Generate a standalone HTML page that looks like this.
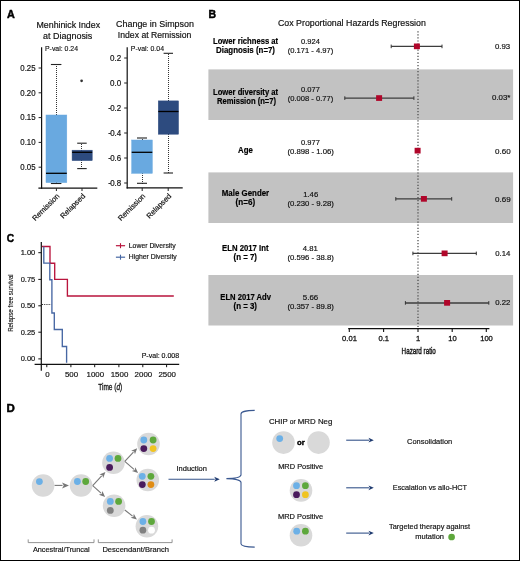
<!DOCTYPE html>
<html><head><meta charset="utf-8"><style>
html,body{margin:0;padding:0;background:#fff;}
svg{display:block;will-change:transform;font-family:"Liberation Sans", sans-serif;}
</style></head><body>
<svg width="520" height="561" viewBox="0 0 520 561">
<rect width="520" height="561" fill="#fff"/>
<text x="7" y="18.2" font-size="10.6" text-anchor="start" font-weight="bold" fill="#000" textLength="7.8" lengthAdjust="spacingAndGlyphs" stroke="#000" stroke-width="0.45" >A</text>
<text x="68.3" y="28.2" font-size="8.8" text-anchor="middle" font-weight="normal" fill="#111" textLength="63.5" lengthAdjust="spacingAndGlyphs" stroke="#111" stroke-width="0.18" >Menhinick Index</text>
<text x="67.7" y="39.1" font-size="8.8" text-anchor="middle" font-weight="normal" fill="#111" textLength="49.3" lengthAdjust="spacingAndGlyphs" stroke="#111" stroke-width="0.18" >at Diagnosis</text>
<text x="155" y="27.0" font-size="8.8" text-anchor="middle" font-weight="normal" fill="#111" textLength="77.8" lengthAdjust="spacingAndGlyphs" stroke="#111" stroke-width="0.18" >Change in Simpson</text>
<text x="154.6" y="38.4" font-size="8.8" text-anchor="middle" font-weight="normal" fill="#111" textLength="73.5" lengthAdjust="spacingAndGlyphs" stroke="#111" stroke-width="0.18" >Index at Remission</text>
<line x1="41.6" y1="47.3" x2="41.6" y2="188.79999999999998" stroke="#111" stroke-width="1.2" />
<line x1="38.4" y1="188.2" x2="97.3" y2="188.2" stroke="#111" stroke-width="1.2" />
<line x1="38.6" y1="167.2" x2="41.6" y2="167.2" stroke="#222" stroke-width="1" />
<text x="35.6" y="170.04999999999998" font-size="8.6" text-anchor="end" font-weight="normal" fill="#111" textLength="15.3" lengthAdjust="spacingAndGlyphs" stroke="#111" stroke-width="0.18" >0.05</text>
<line x1="38.6" y1="142.39999999999998" x2="41.6" y2="142.39999999999998" stroke="#222" stroke-width="1" />
<text x="35.6" y="145.24999999999997" font-size="8.6" text-anchor="end" font-weight="normal" fill="#111" textLength="15.3" lengthAdjust="spacingAndGlyphs" stroke="#111" stroke-width="0.18" >0.10</text>
<line x1="38.6" y1="117.6" x2="41.6" y2="117.6" stroke="#222" stroke-width="1" />
<text x="35.6" y="120.44999999999999" font-size="8.6" text-anchor="end" font-weight="normal" fill="#111" textLength="15.3" lengthAdjust="spacingAndGlyphs" stroke="#111" stroke-width="0.18" >0.15</text>
<line x1="38.6" y1="92.79999999999997" x2="41.6" y2="92.79999999999997" stroke="#222" stroke-width="1" />
<text x="35.6" y="95.64999999999996" font-size="8.6" text-anchor="end" font-weight="normal" fill="#111" textLength="15.3" lengthAdjust="spacingAndGlyphs" stroke="#111" stroke-width="0.18" >0.20</text>
<line x1="38.6" y1="67.99999999999999" x2="41.6" y2="67.99999999999999" stroke="#222" stroke-width="1" />
<text x="35.6" y="70.84999999999998" font-size="8.6" text-anchor="end" font-weight="normal" fill="#111" textLength="15.3" lengthAdjust="spacingAndGlyphs" stroke="#111" stroke-width="0.18" >0.25</text>
<line x1="56.5" y1="115" x2="56.5" y2="64" stroke="#333" stroke-width="1" stroke-dasharray="1,1"/>
<line x1="56.5" y1="182" x2="56.5" y2="184" stroke="#333" stroke-width="1" stroke-dasharray="1,1"/>
<line x1="50.9" y1="64.5" x2="61.4" y2="64.5" stroke="#222" stroke-width="1.1" />
<line x1="50.9" y1="183.5" x2="61.4" y2="183.5" stroke="#222" stroke-width="1.1" />
<rect x="46" y="115" width="20.799999999999997" height="67.6" fill="#69a9e0" stroke="#69a9e0" stroke-width="0.5"/>
<line x1="46" y1="173.3" x2="66.8" y2="173.3" stroke="#000" stroke-width="1.3" />
<line x1="81.5" y1="151" x2="81.5" y2="143" stroke="#333" stroke-width="1" stroke-dasharray="1,1"/>
<line x1="81.5" y1="160" x2="81.5" y2="169" stroke="#333" stroke-width="1" stroke-dasharray="1,1"/>
<line x1="77.2" y1="143.2" x2="86.7" y2="143.2" stroke="#222" stroke-width="1.1" />
<line x1="77.2" y1="168.6" x2="86.7" y2="168.6" stroke="#222" stroke-width="1.1" />
<rect x="72.1" y="150.2" width="20.10000000000001" height="10.400000000000006" fill="#2d4b7f" stroke="#2d4b7f" stroke-width="0.5"/>
<line x1="72.1" y1="152.3" x2="92.2" y2="152.3" stroke="#000" stroke-width="1.3" />
<text x="45" y="51.4" font-size="7.3" text-anchor="start" font-weight="normal" fill="#111" textLength="33" lengthAdjust="spacingAndGlyphs" stroke="#111" stroke-width="0.144" >P-val: 0.24</text>
<circle cx="81.6" cy="80.8" r="1.35" fill="#333" />
<line x1="127.2" y1="47.3" x2="127.2" y2="188.5" stroke="#111" stroke-width="1.2" />
<line x1="126.6" y1="187.9" x2="182.7" y2="187.9" stroke="#111" stroke-width="1.2" />
<line x1="124.2" y1="58.0" x2="127.2" y2="58.0" stroke="#222" stroke-width="1" />
<text x="121.2" y="60.85" font-size="8.6" text-anchor="end" font-weight="normal" fill="#111" textLength="11.2" lengthAdjust="spacingAndGlyphs" stroke="#111" stroke-width="0.18" >0.2</text>
<line x1="124.2" y1="83.0" x2="127.2" y2="83.0" stroke="#222" stroke-width="1" />
<text x="121.2" y="85.85" font-size="8.6" text-anchor="end" font-weight="normal" fill="#111" textLength="11.2" lengthAdjust="spacingAndGlyphs" stroke="#111" stroke-width="0.18" >0.0</text>
<line x1="124.2" y1="108.0" x2="127.2" y2="108.0" stroke="#222" stroke-width="1" />
<text x="121.2" y="110.85" font-size="8.6" text-anchor="end" font-weight="normal" fill="#111" textLength="12.9" lengthAdjust="spacingAndGlyphs" stroke="#111" stroke-width="0.18" >-<tspan dx="-0.9">0.2</tspan></text>
<line x1="124.2" y1="133.0" x2="127.2" y2="133.0" stroke="#222" stroke-width="1" />
<text x="121.2" y="135.85" font-size="8.6" text-anchor="end" font-weight="normal" fill="#111" textLength="12.9" lengthAdjust="spacingAndGlyphs" stroke="#111" stroke-width="0.18" >-<tspan dx="-0.9">0.4</tspan></text>
<line x1="124.2" y1="158.0" x2="127.2" y2="158.0" stroke="#222" stroke-width="1" />
<text x="121.2" y="160.85" font-size="8.6" text-anchor="end" font-weight="normal" fill="#111" textLength="12.9" lengthAdjust="spacingAndGlyphs" stroke="#111" stroke-width="0.18" >-<tspan dx="-0.9">0.6</tspan></text>
<line x1="124.2" y1="183.0" x2="127.2" y2="183.0" stroke="#222" stroke-width="1" />
<text x="121.2" y="185.85" font-size="8.6" text-anchor="end" font-weight="normal" fill="#111" textLength="12.9" lengthAdjust="spacingAndGlyphs" stroke="#111" stroke-width="0.18" >-<tspan dx="-0.9">0.8</tspan></text>
<line x1="142.5" y1="140" x2="142.5" y2="138" stroke="#333" stroke-width="1" stroke-dasharray="1,1"/>
<line x1="142.5" y1="173" x2="142.5" y2="184" stroke="#333" stroke-width="1" stroke-dasharray="1,1"/>
<line x1="137" y1="138" x2="147" y2="138" stroke="#222" stroke-width="1.1" />
<line x1="137" y1="183.3" x2="147" y2="183.3" stroke="#222" stroke-width="1.1" />
<rect x="131.7" y="140" width="20.600000000000023" height="33.30000000000001" fill="#69a9e0" stroke="#69a9e0" stroke-width="0.5"/>
<line x1="131.7" y1="152.3" x2="152.3" y2="152.3" stroke="#000" stroke-width="1.3" />
<line x1="168.5" y1="101" x2="168.5" y2="53" stroke="#333" stroke-width="1" stroke-dasharray="1,1"/>
<line x1="168.5" y1="134" x2="168.5" y2="173" stroke="#333" stroke-width="1" stroke-dasharray="1,1"/>
<line x1="163.6" y1="53.3" x2="173" y2="53.3" stroke="#222" stroke-width="1.1" />
<line x1="163.6" y1="173" x2="173" y2="173" stroke="#222" stroke-width="1.1" />
<rect x="158.3" y="100.9" width="20.19999999999999" height="33.29999999999998" fill="#2d4b7f" stroke="#2d4b7f" stroke-width="0.5"/>
<line x1="158.3" y1="111.5" x2="178.5" y2="111.5" stroke="#000" stroke-width="1.3" />
<text x="130.8" y="51.3" font-size="7.3" text-anchor="start" font-weight="normal" fill="#111" textLength="33.2" lengthAdjust="spacingAndGlyphs" stroke="#111" stroke-width="0.144" >P-val: 0.04</text>
<line x1="56.4" y1="188.2" x2="56.4" y2="191" stroke="#222" stroke-width="1" />
<line x1="82" y1="188.2" x2="82" y2="191" stroke="#222" stroke-width="1" />
<line x1="142.2" y1="187.9" x2="142.2" y2="191" stroke="#222" stroke-width="1" />
<line x1="168.2" y1="187.9" x2="168.2" y2="191" stroke="#222" stroke-width="1" />
<text x="0" y="0" font-size="7.5" text-anchor="end" font-weight="normal" fill="#111" stroke="#111" stroke-width="0.18" transform="translate(60.0,196.6) rotate(-45)">Remission</text>
<text x="0" y="0" font-size="7.5" text-anchor="end" font-weight="normal" fill="#111" stroke="#111" stroke-width="0.18" transform="translate(85.6,196.6) rotate(-45)">Relapsed</text>
<text x="0" y="0" font-size="7.5" text-anchor="end" font-weight="normal" fill="#111" stroke="#111" stroke-width="0.18" transform="translate(145.79999999999998,196.6) rotate(-45)">Remission</text>
<text x="0" y="0" font-size="7.5" text-anchor="end" font-weight="normal" fill="#111" stroke="#111" stroke-width="0.18" transform="translate(171.79999999999998,196.6) rotate(-45)">Relapsed</text>
<text x="208.6" y="18.1" font-size="10.6" text-anchor="start" font-weight="bold" fill="#000" textLength="7.6" lengthAdjust="spacingAndGlyphs" stroke="#000" stroke-width="0.45" >B</text>
<text x="278" y="25.7" font-size="8.6" text-anchor="start" font-weight="normal" fill="#111" textLength="147.8" lengthAdjust="spacingAndGlyphs" stroke="#111" stroke-width="0.18" >Cox Proportional Hazards Regression</text>
<rect x="208.4" y="69.4" width="304.70000000000005" height="50.599999999999994" fill="#c2c2c2" />
<rect x="208.4" y="172.4" width="304.70000000000005" height="50.599999999999994" fill="#c2c2c2" />
<rect x="208.4" y="275" width="304.70000000000005" height="50.5" fill="#c2c2c2" />
<line x1="418" y1="31.2" x2="418" y2="328" stroke="#444" stroke-width="1.2" stroke-dasharray="1.2,1.87"/>
<text x="245.55" y="43.8" font-size="8.4" text-anchor="middle" font-weight="bold" fill="#000" textLength="65.1" lengthAdjust="spacingAndGlyphs" stroke="#000" stroke-width="0.18" >Lower richness at</text>
<text x="245.55" y="53.1" font-size="8.4" text-anchor="middle" font-weight="bold" fill="#000" textLength="58.9" lengthAdjust="spacingAndGlyphs" stroke="#000" stroke-width="0.18" >Diagnosis (n=7)</text>
<text x="245.55" y="95.1" font-size="8.4" text-anchor="middle" font-weight="bold" fill="#000" textLength="65.1" lengthAdjust="spacingAndGlyphs" stroke="#000" stroke-width="0.18" >Lower diversity at</text>
<text x="246.55" y="104.3" font-size="8.4" text-anchor="middle" font-weight="bold" fill="#000" textLength="59.1" lengthAdjust="spacingAndGlyphs" stroke="#000" stroke-width="0.18" >Remission (n=7)</text>
<text x="245.4" y="153" font-size="8.4" text-anchor="middle" font-weight="bold" fill="#000" textLength="14.8" lengthAdjust="spacingAndGlyphs" stroke="#000" stroke-width="0.18" >Age</text>
<text x="245.5" y="196.2" font-size="8.4" text-anchor="middle" font-weight="bold" fill="#000" textLength="47.4" lengthAdjust="spacingAndGlyphs" stroke="#000" stroke-width="0.18" >Male Gender</text>
<text x="245.35" y="205.3" font-size="8.4" text-anchor="middle" font-weight="bold" fill="#000" textLength="19.5" lengthAdjust="spacingAndGlyphs" stroke="#000" stroke-width="0.18" >(n=6)</text>
<text x="245.3" y="250.7" font-size="8.4" text-anchor="middle" font-weight="bold" fill="#000" textLength="46.4" lengthAdjust="spacingAndGlyphs" stroke="#000" stroke-width="0.18" >ELN 2017 Int</text>
<text x="245.25" y="260" font-size="8.4" text-anchor="middle" font-weight="bold" fill="#000" textLength="23.5" lengthAdjust="spacingAndGlyphs" stroke="#000" stroke-width="0.18" >(n = 7)</text>
<text x="245.65" y="299.9" font-size="8.4" text-anchor="middle" font-weight="bold" fill="#000" textLength="50.7" lengthAdjust="spacingAndGlyphs" stroke="#000" stroke-width="0.18" >ELN 2017 Adv</text>
<text x="245.25" y="309.1" font-size="8.4" text-anchor="middle" font-weight="bold" fill="#000" textLength="23.5" lengthAdjust="spacingAndGlyphs" stroke="#000" stroke-width="0.18" >(n = 3)</text>
<text x="310.5" y="44.3" font-size="8" text-anchor="middle" font-weight="normal" fill="#111" textLength="18.8" lengthAdjust="spacingAndGlyphs" stroke="#111" stroke-width="0.18" >0.924</text>
<text x="310.5" y="53.1" font-size="8" text-anchor="middle" font-weight="normal" fill="#111" textLength="45.4" lengthAdjust="spacingAndGlyphs" stroke="#111" stroke-width="0.18" >(0.171 - 4.97)</text>
<text x="310.5" y="91.6" font-size="8" text-anchor="middle" font-weight="normal" fill="#111" textLength="18.8" lengthAdjust="spacingAndGlyphs" stroke="#111" stroke-width="0.18" >0.077</text>
<text x="310.5" y="100.6" font-size="8" text-anchor="middle" font-weight="normal" fill="#111" textLength="45.4" lengthAdjust="spacingAndGlyphs" stroke="#111" stroke-width="0.18" >(0.008 - 0.77)</text>
<text x="310.5" y="145.4" font-size="8" text-anchor="middle" font-weight="normal" fill="#111" textLength="18.8" lengthAdjust="spacingAndGlyphs" stroke="#111" stroke-width="0.18" >0.977</text>
<text x="310.65" y="154.2" font-size="8" text-anchor="middle" font-weight="normal" fill="#111" textLength="46.5" lengthAdjust="spacingAndGlyphs" stroke="#111" stroke-width="0.18" >(0.898 - 1.06)</text>
<text x="310.7" y="196.7" font-size="8" text-anchor="middle" font-weight="normal" fill="#111" textLength="15.0" lengthAdjust="spacingAndGlyphs" stroke="#111" stroke-width="0.18" >1.46</text>
<text x="310.65" y="205.6" font-size="8" text-anchor="middle" font-weight="normal" fill="#111" textLength="46.5" lengthAdjust="spacingAndGlyphs" stroke="#111" stroke-width="0.18" >(0.230 - 9.28)</text>
<text x="310.3" y="251.3" font-size="8" text-anchor="middle" font-weight="normal" fill="#111" textLength="15.0" lengthAdjust="spacingAndGlyphs" stroke="#111" stroke-width="0.18" >4.81</text>
<text x="310.65" y="260.1" font-size="8" text-anchor="middle" font-weight="normal" fill="#111" textLength="46.5" lengthAdjust="spacingAndGlyphs" stroke="#111" stroke-width="0.18" >(0.596 - 38.8)</text>
<text x="310.5" y="300.4" font-size="8" text-anchor="middle" font-weight="normal" fill="#111" textLength="15.4" lengthAdjust="spacingAndGlyphs" stroke="#111" stroke-width="0.18" >5.66</text>
<text x="310.65" y="309.3" font-size="8" text-anchor="middle" font-weight="normal" fill="#111" textLength="46.5" lengthAdjust="spacingAndGlyphs" stroke="#111" stroke-width="0.18" >(0.357 - 89.8)</text>
<text x="510.2" y="49.1" font-size="8" text-anchor="end" font-weight="normal" fill="#111" textLength="15.2" lengthAdjust="spacingAndGlyphs" stroke="#111" stroke-width="0.18" >0.93</text>
<text x="510.4" y="100" font-size="8" text-anchor="end" font-weight="normal" fill="#111" textLength="18.4" lengthAdjust="spacingAndGlyphs" stroke="#111" stroke-width="0.18" >0.03*</text>
<text x="510.6" y="153.5" font-size="8" text-anchor="end" font-weight="normal" fill="#111" textLength="15.6" lengthAdjust="spacingAndGlyphs" stroke="#111" stroke-width="0.18" >0.60</text>
<text x="510.6" y="201.5" font-size="8" text-anchor="end" font-weight="normal" fill="#111" textLength="15.6" lengthAdjust="spacingAndGlyphs" stroke="#111" stroke-width="0.18" >0.69</text>
<text x="510.4" y="256" font-size="8" text-anchor="end" font-weight="normal" fill="#111" textLength="15.1" lengthAdjust="spacingAndGlyphs" stroke="#111" stroke-width="0.18" >0.14</text>
<text x="510.4" y="305.4" font-size="8" text-anchor="end" font-weight="normal" fill="#111" textLength="15.1" lengthAdjust="spacingAndGlyphs" stroke="#111" stroke-width="0.18" >0.22</text>
<line x1="391.2" y1="46.4" x2="442" y2="46.4" stroke="#3d3d3d" stroke-width="1.25" />
<line x1="391.2" y1="44.6" x2="391.2" y2="48.199999999999996" stroke="#333" stroke-width="1" />
<line x1="442" y1="44.6" x2="442" y2="48.199999999999996" stroke="#333" stroke-width="1" />
<rect x="413.9" y="43.5" width="6" height="5.7" fill="#b0062a" />
<line x1="344.8" y1="98.1" x2="413.9" y2="98.1" stroke="#3d3d3d" stroke-width="1.25" />
<line x1="344.8" y1="96.3" x2="344.8" y2="99.89999999999999" stroke="#333" stroke-width="1" />
<line x1="413.9" y1="96.3" x2="413.9" y2="99.89999999999999" stroke="#333" stroke-width="1" />
<rect x="376.1" y="95.19999999999999" width="6" height="5.7" fill="#b0062a" />
<line x1="416.2" y1="150.7" x2="418.7" y2="150.7" stroke="#3d3d3d" stroke-width="1.25" />
<line x1="416.2" y1="148.89999999999998" x2="416.2" y2="152.5" stroke="#333" stroke-width="1" />
<line x1="418.7" y1="148.89999999999998" x2="418.7" y2="152.5" stroke="#333" stroke-width="1" />
<rect x="414.6" y="147.79999999999998" width="6" height="5.7" fill="#b0062a" />
<line x1="395.8" y1="198.9" x2="451.7" y2="198.9" stroke="#3d3d3d" stroke-width="1.25" />
<line x1="395.8" y1="197.1" x2="395.8" y2="200.70000000000002" stroke="#333" stroke-width="1" />
<line x1="451.7" y1="197.1" x2="451.7" y2="200.70000000000002" stroke="#333" stroke-width="1" />
<rect x="420.9" y="196.0" width="6" height="5.7" fill="#b0062a" />
<line x1="412.9" y1="253.4" x2="476.3" y2="253.4" stroke="#3d3d3d" stroke-width="1.25" />
<line x1="412.9" y1="251.6" x2="412.9" y2="255.20000000000002" stroke="#333" stroke-width="1" />
<line x1="476.3" y1="251.6" x2="476.3" y2="255.20000000000002" stroke="#333" stroke-width="1" />
<rect x="441.6" y="250.5" width="6" height="5.7" fill="#b0062a" />
<line x1="405.4" y1="302.9" x2="488.8" y2="302.9" stroke="#3d3d3d" stroke-width="1.5" />
<line x1="405.4" y1="301.09999999999997" x2="405.4" y2="304.7" stroke="#333" stroke-width="1" />
<line x1="488.8" y1="301.09999999999997" x2="488.8" y2="304.7" stroke="#333" stroke-width="1" />
<rect x="444.1" y="300.0" width="6" height="5.7" fill="#b0062a" />
<line x1="348.2" y1="328.6" x2="489.4" y2="328.6" stroke="#111" stroke-width="1.2" />
<line x1="349.3" y1="328.6" x2="349.3" y2="332" stroke="#111" stroke-width="1.1" />
<text x="349.5" y="341" font-size="7.6" text-anchor="middle" font-weight="normal" fill="#111" stroke="#111" stroke-width="0.28" >0.01</text>
<line x1="383.6" y1="328.6" x2="383.6" y2="332" stroke="#111" stroke-width="1.1" />
<text x="383.8" y="341" font-size="7.6" text-anchor="middle" font-weight="normal" fill="#111" stroke="#111" stroke-width="0.28" >0.1</text>
<line x1="418" y1="328.6" x2="418" y2="332" stroke="#111" stroke-width="1.1" />
<text x="418.2" y="341" font-size="7.6" text-anchor="middle" font-weight="normal" fill="#111" stroke="#111" stroke-width="0.28" >1</text>
<line x1="452.2" y1="328.6" x2="452.2" y2="332" stroke="#111" stroke-width="1.1" />
<text x="452.4" y="341" font-size="7.6" text-anchor="middle" font-weight="normal" fill="#111" stroke="#111" stroke-width="0.28" >10</text>
<line x1="486.3" y1="328.6" x2="486.3" y2="332" stroke="#111" stroke-width="1.1" />
<text x="486.5" y="341" font-size="7.6" text-anchor="middle" font-weight="normal" fill="#111" stroke="#111" stroke-width="0.28" >100</text>
<text x="0" y="0" font-size="9" text-anchor="middle" font-weight="normal" fill="#111" textLength="34.2" lengthAdjust="spacingAndGlyphs" stroke="#111" stroke-width="0.4" transform="translate(418.7,354.4) ">Hazard ratio</text>
<text x="6.8" y="241.6" font-size="10.4" text-anchor="start" font-weight="bold" fill="#000" textLength="7.4" lengthAdjust="spacingAndGlyphs" stroke="#000" stroke-width="0.45" >C</text>
<line x1="41.3" y1="242" x2="41.3" y2="370.8" stroke="#111" stroke-width="1.2" />
<line x1="34.6" y1="364.3" x2="179.2" y2="364.3" stroke="#111" stroke-width="1.2" />
<line x1="38.3" y1="252.7" x2="41.3" y2="252.7" stroke="#111" stroke-width="1" />
<text x="35.3" y="255.04999999999998" font-size="7.9" text-anchor="end" font-weight="normal" fill="#111" textLength="14.6" lengthAdjust="spacingAndGlyphs" stroke="#111" stroke-width="0.18" >1.00</text>
<line x1="38.3" y1="279.4" x2="41.3" y2="279.4" stroke="#111" stroke-width="1" />
<text x="35.3" y="281.75" font-size="7.9" text-anchor="end" font-weight="normal" fill="#111" textLength="14.6" lengthAdjust="spacingAndGlyphs" stroke="#111" stroke-width="0.18" >0.75</text>
<line x1="38.3" y1="305.8" x2="41.3" y2="305.8" stroke="#111" stroke-width="1" />
<text x="35.3" y="308.15000000000003" font-size="7.9" text-anchor="end" font-weight="normal" fill="#111" textLength="14.6" lengthAdjust="spacingAndGlyphs" stroke="#111" stroke-width="0.18" >0.50</text>
<line x1="38.3" y1="332.2" x2="41.3" y2="332.2" stroke="#111" stroke-width="1" />
<text x="35.3" y="334.55" font-size="7.9" text-anchor="end" font-weight="normal" fill="#111" textLength="14.6" lengthAdjust="spacingAndGlyphs" stroke="#111" stroke-width="0.18" >0.25</text>
<line x1="38.3" y1="358.9" x2="41.3" y2="358.9" stroke="#111" stroke-width="1" />
<text x="35.3" y="361.25" font-size="7.9" text-anchor="end" font-weight="normal" fill="#111" textLength="14.6" lengthAdjust="spacingAndGlyphs" stroke="#111" stroke-width="0.18" >0.00</text>
<line x1="46.8" y1="364.3" x2="46.8" y2="367.2" stroke="#111" stroke-width="1" />
<text x="47.4" y="377.3" font-size="7.9" text-anchor="middle" font-weight="normal" fill="#111" stroke="#111" stroke-width="0.18" >0</text>
<line x1="70.9" y1="364.3" x2="70.9" y2="367.2" stroke="#111" stroke-width="1" />
<text x="71.5" y="377.3" font-size="7.9" text-anchor="middle" font-weight="normal" fill="#111" stroke="#111" stroke-width="0.18" >500</text>
<line x1="94.7" y1="364.3" x2="94.7" y2="367.2" stroke="#111" stroke-width="1" />
<text x="95.3" y="377.3" font-size="7.9" text-anchor="middle" font-weight="normal" fill="#111" stroke="#111" stroke-width="0.18" >1000</text>
<line x1="118.9" y1="364.3" x2="118.9" y2="367.2" stroke="#111" stroke-width="1" />
<text x="119.5" y="377.3" font-size="7.9" text-anchor="middle" font-weight="normal" fill="#111" stroke="#111" stroke-width="0.18" >1500</text>
<line x1="142.8" y1="364.3" x2="142.8" y2="367.2" stroke="#111" stroke-width="1" />
<text x="143.4" y="377.3" font-size="7.9" text-anchor="middle" font-weight="normal" fill="#111" stroke="#111" stroke-width="0.18" >2000</text>
<line x1="166.6" y1="364.3" x2="166.6" y2="367.2" stroke="#111" stroke-width="1" />
<text x="167.2" y="377.3" font-size="7.9" text-anchor="middle" font-weight="normal" fill="#111" stroke="#111" stroke-width="0.18" >2500</text>
<polyline points="42,246.5 50,246.5 50,263.2 54.7,263.2 54.7,279.4 67.4,279.4 67.4,296 173.8,296" fill="none" stroke="#b9153d" stroke-width="1.35"/>
<polyline points="43.8,246.5 43.8,263.1 49.8,263.1 49.8,279.7 51.9,279.7 51.9,313 54.3,313 54.3,329.5 62.3,329.5 62.3,346.5 66.6,346.5 66.6,362.7" fill="none" stroke="#4767a3" stroke-width="1.35"/>
<line x1="42" y1="304.5" x2="51.1" y2="304.5" stroke="#333" stroke-width="1.1" stroke-dasharray="1.1,1.1"/>
<line x1="115.9" y1="245.7" x2="125.1" y2="245.7" stroke="#b9153d" stroke-width="1.2" />
<line x1="120.5" y1="243.2" x2="120.5" y2="248.2" stroke="#b9153d" stroke-width="1.1" />
<line x1="115.9" y1="257.2" x2="125.1" y2="257.2" stroke="#4767a3" stroke-width="1.2" />
<line x1="120.5" y1="254.7" x2="120.5" y2="259.7" stroke="#4767a3" stroke-width="1.1" />
<text x="128.8" y="248.2" font-size="7.9" text-anchor="start" font-weight="normal" fill="#111" textLength="46.9" lengthAdjust="spacingAndGlyphs" stroke="#111" stroke-width="0.18" >Lower Diversity</text>
<text x="128.8" y="259.3" font-size="7.9" text-anchor="start" font-weight="normal" fill="#111" textLength="47.9" lengthAdjust="spacingAndGlyphs" stroke="#111" stroke-width="0.18" >Higher Diversity</text>
<text x="179.2" y="358" font-size="7.5" text-anchor="end" font-weight="normal" fill="#111" textLength="37.5" lengthAdjust="spacingAndGlyphs" stroke="#111" stroke-width="0.18" >P-val: 0.008</text>
<text x="0" y="0" font-size="9" text-anchor="middle" font-weight="normal" fill="#111" textLength="24" lengthAdjust="spacingAndGlyphs" stroke="#111" stroke-width="0.3" transform="translate(110.2,390.1) ">Time (<tspan font-style="italic">d</tspan>)</text>
<text x="0" y="0" font-size="7.9" text-anchor="middle" font-weight="normal" fill="#111" textLength="57.6" lengthAdjust="spacingAndGlyphs" stroke="#111" stroke-width="0.12" transform="translate(13.1,303.05) rotate(-90)">Relapse free survival</text>
<text x="6.4" y="411.5" font-size="10.6" text-anchor="start" font-weight="bold" fill="#000" textLength="8.3" lengthAdjust="spacingAndGlyphs" stroke="#000" stroke-width="0.45" >D</text>
<circle cx="43.1" cy="485.5" r="11.3" fill="#d9d9d9" />
<circle cx="39.4" cy="481.6" r="3.4" fill="#6cb0e6" />
<circle cx="81.1" cy="485.5" r="11.3" fill="#d9d9d9" />
<circle cx="77.4" cy="481.5" r="3.4" fill="#6cb0e6" />
<circle cx="85.7" cy="481.5" r="3.4" fill="#5ea83c" />
<circle cx="113.45" cy="462.8" r="11.3" fill="#d9d9d9" />
<circle cx="109.6" cy="458.4" r="3.4" fill="#6cb0e6" />
<circle cx="118" cy="458.4" r="3.4" fill="#5ea83c" />
<circle cx="109.6" cy="467.4" r="3.4" fill="#4a1b5c" />
<circle cx="114.1" cy="505.7" r="11.3" fill="#d9d9d9" />
<circle cx="110.3" cy="501.4" r="3.4" fill="#6cb0e6" />
<circle cx="118.6" cy="501.4" r="3.4" fill="#5ea83c" />
<circle cx="110.3" cy="510.4" r="3.4" fill="#808080" />
<circle cx="148.5" cy="444" r="11.3" fill="#d9d9d9" />
<circle cx="143.8" cy="440" r="3.4" fill="#6cb0e6" />
<circle cx="153.1" cy="440" r="3.4" fill="#5ea83c" />
<circle cx="143.8" cy="448.6" r="3.4" fill="#4a1b5c" />
<circle cx="153.1" cy="448.6" r="3.4" fill="#f0c422" />
<circle cx="147.8" cy="480" r="11.3" fill="#d9d9d9" />
<circle cx="142.3" cy="476.3" r="3.4" fill="#6cb0e6" />
<circle cx="150.9" cy="476.3" r="3.4" fill="#5ea83c" />
<circle cx="142.3" cy="484.6" r="3.4" fill="#4a1b5c" />
<circle cx="150.9" cy="484.6" r="3.4" fill="#e08c14" />
<circle cx="146.9" cy="526.2" r="11.3" fill="#d9d9d9" />
<circle cx="142.9" cy="521.5" r="3.4" fill="#6cb0e6" />
<circle cx="151.5" cy="521.5" r="3.4" fill="#5ea83c" />
<circle cx="142.9" cy="530.2" r="3.4" fill="#808080" />
<circle cx="151.5" cy="530.2" r="3.4" fill="#ffffff" />
<line x1="54.6" y1="485.4" x2="62.5" y2="485.4" stroke="#777" stroke-width="1.1" />
<polygon points="69.00,485.40 62.00,488.40 63.75,485.40 62.00,482.40" fill="#777"/>
<line x1="92.7" y1="485.6" x2="101.66090808406912" y2="475.93350860222466" stroke="#777" stroke-width="1.1" />
<polygon points="105.40,471.90 103.23,478.07 102.34,475.20 99.41,474.53" fill="#777"/>
<line x1="92.7" y1="485.6" x2="101.03478285858898" y2="493.1954069598432" stroke="#777" stroke-width="1.1" />
<polygon points="105.10,496.90 98.91,494.78 101.77,493.87 102.42,490.94" fill="#777"/>
<line x1="124.8" y1="461.3" x2="133.41909625628762" y2="452.19434185827674" stroke="#777" stroke-width="1.1" />
<polygon points="137.20,448.20 134.96,454.34 134.11,451.47 131.19,450.77" fill="#777"/>
<line x1="124.8" y1="461.3" x2="133.985837183012" y2="469.4498405082362" stroke="#777" stroke-width="1.1" />
<polygon points="138.10,473.10 131.89,471.06 134.73,470.11 135.34,467.17" fill="#777"/>
<line x1="124.8" y1="510" x2="132.57400881926858" y2="516.1035606432274" stroke="#777" stroke-width="1.1" />
<polygon points="136.90,519.50 130.58,517.84 133.36,516.72 133.79,513.75" fill="#777"/>
<polyline points="28.2,539.4 28.2,542.6 94,542.6 94,539.4" fill="none" stroke="#888" stroke-width="0.9"/>
<polyline points="98.3,539.4 98.3,542.6 172.1,542.6 172.1,539.4" fill="none" stroke="#888" stroke-width="0.9"/>
<text x="61.25" y="552.3" font-size="7.8" text-anchor="middle" font-weight="normal" fill="#111" textLength="56.7" lengthAdjust="spacingAndGlyphs" stroke="#111" stroke-width="0.18" >Ancestral/Truncal</text>
<text x="135.65" y="552.2" font-size="7.8" text-anchor="middle" font-weight="normal" fill="#111" textLength="66.5" lengthAdjust="spacingAndGlyphs" stroke="#111" stroke-width="0.18" >Descendant/Branch</text>
<text x="191.7" y="471" font-size="7.8" text-anchor="middle" font-weight="normal" fill="#111" textLength="30.4" lengthAdjust="spacingAndGlyphs" stroke="#111" stroke-width="0.18" >Induction</text>
<line x1="168.5" y1="479.2" x2="214.75" y2="479.2" stroke="#34538a" stroke-width="1.1" />
<polygon points="219.75,479.20 214.25,481.70 215.62,479.20 214.25,476.70" fill="#1f3b70"/>
<path d="M254.7,410.4 C247,410.6 241.5,410.8 241,413.8 L241,474.8 C240.6,477.4 236,478.5 226.4,478.6 C236,478.7 240.6,479.8 241,482.4 L241,543.8 C241.5,546.6 247,547 254.7,547.1" fill="none" stroke="#3a5890" stroke-width="1.1"/>
<text x="300.6" y="423.5" font-size="7.8" text-anchor="middle" font-weight="normal" fill="#111" textLength="63.4" lengthAdjust="spacingAndGlyphs" stroke="#111" stroke-width="0.18" >CHIP <tspan font-size="6.6">or</tspan> MRD Neg</text>
<circle cx="283.5" cy="442.6" r="11.3" fill="#d9d9d9" />
<circle cx="279.7" cy="438.6" r="3.4" fill="#6cb0e6" />
<text x="300.85" y="444.9" font-size="7.6" text-anchor="middle" font-weight="bold" fill="#000" textLength="7.7" lengthAdjust="spacingAndGlyphs" stroke="#000" stroke-width="0.4" >or</text>
<circle cx="318.5" cy="442.6" r="11.3" fill="#d9d9d9" />
<text x="300.65" y="469.2" font-size="7.8" text-anchor="middle" font-weight="normal" fill="#111" textLength="44.9" lengthAdjust="spacingAndGlyphs" stroke="#111" stroke-width="0.18" >MRD Positive</text>
<circle cx="301" cy="490.4" r="11.3" fill="#d9d9d9" />
<circle cx="296.5" cy="485.7" r="3.4" fill="#6cb0e6" />
<circle cx="305.4" cy="485.7" r="3.4" fill="#5ea83c" />
<circle cx="296.5" cy="494.7" r="3.4" fill="#4a1b5c" />
<circle cx="305.4" cy="494.7" r="3.4" fill="#f0c422" />
<text x="300.6" y="519.1" font-size="7.8" text-anchor="middle" font-weight="normal" fill="#111" textLength="45.2" lengthAdjust="spacingAndGlyphs" stroke="#111" stroke-width="0.18" >MRD Positive</text>
<circle cx="301" cy="535.2" r="11.3" fill="#d9d9d9" />
<circle cx="296.7" cy="531.2" r="3.4" fill="#6cb0e6" />
<circle cx="305.4" cy="531.2" r="3.4" fill="#5ea83c" />
<line x1="346.2" y1="440.2" x2="369.0" y2="440.2" stroke="#34538a" stroke-width="1.1" />
<polygon points="373.80,440.20 368.50,442.60 369.82,440.20 368.50,437.80" fill="#1f3b70"/>
<line x1="346.2" y1="487.8" x2="369.0" y2="487.8" stroke="#34538a" stroke-width="1.1" />
<polygon points="373.80,487.80 368.50,490.20 369.82,487.80 368.50,485.40" fill="#1f3b70"/>
<line x1="346.2" y1="533.1" x2="369.0" y2="533.1" stroke="#34538a" stroke-width="1.1" />
<polygon points="373.80,533.10 368.50,535.50 369.82,533.10 368.50,530.70" fill="#1f3b70"/>
<text x="429.65" y="443.6" font-size="7.8" text-anchor="middle" font-weight="normal" fill="#111" textLength="45.1" lengthAdjust="spacingAndGlyphs" stroke="#111" stroke-width="0.18" >Consolidation</text>
<text x="429.9" y="490.3" font-size="7.8" text-anchor="middle" font-weight="normal" fill="#111" textLength="74.2" lengthAdjust="spacingAndGlyphs" stroke="#111" stroke-width="0.18" >Escalation vs allo-HCT</text>
<text x="429.6" y="529.4" font-size="7.8" text-anchor="middle" font-weight="normal" fill="#111" textLength="81" lengthAdjust="spacingAndGlyphs" stroke="#111" stroke-width="0.18" >Targeted therapy against</text>
<text x="429.65" y="538.9" font-size="7.8" text-anchor="middle" font-weight="normal" fill="#111" textLength="28.7" lengthAdjust="spacingAndGlyphs" stroke="#111" stroke-width="0.18" >mutation</text>
<circle cx="451.6" cy="537" r="3.35" fill="#5ea83c" />
<rect x="0.5" y="0.5" width="519" height="560" fill="none" stroke="#000" stroke-width="1"/>
</svg>
</body></html>
